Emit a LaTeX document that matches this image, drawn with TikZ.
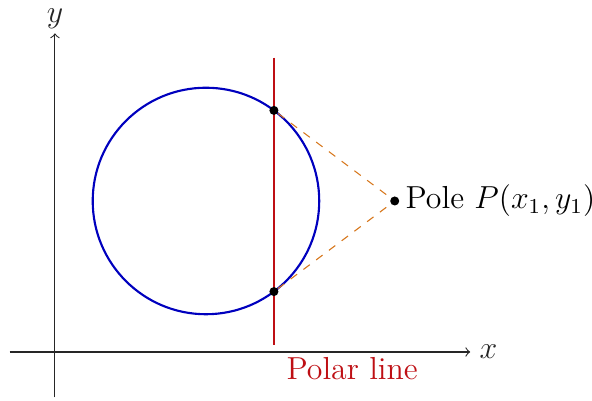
\documentclass[tikz,border=0pt]{standalone}
\usetikzlibrary{calc}
\definecolor{circblue}{RGB}{0,0,190}
\definecolor{polred}{RGB}{190,15,20}
\definecolor{tanorange}{RGB}{215,120,30}
\begin{document}
\begin{tikzpicture}[x=1cm,y=1cm,
  axis/.style={->,thin,black!85},
  lbl/.style={font=\fontsize{12}{14}\selectfont},
  dot/.style={circle,fill=black,inner sep=0pt,minimum size=3.4pt},
  tangent/.style={dashed,tanorange,thin}]
\useasboundingbox (-0.728,-0.636) rectangle (7.113,4.662);
% axes
\coordinate (xs) at (-0.6,0);
\coordinate (xe) at (5.5,0);
\coordinate (ys) at (0,-0.6);
\coordinate (ye) at (0,4.22);
\draw[axis] (xs) -- (xe) node[right,lbl] (xl) {$x$};
\draw[axis] (ys) -- (ye) node[above,lbl,inner sep=1.5pt] (yl) {$y$};
% circle
\coordinate (C) at (2,2);
\draw[circblue,line width=0.8pt] (C) circle (1.5);
% polar line
\coordinate (pa) at (2.9,3.9);
\coordinate (pb) at (2.9,0.09);
\draw[polred,line width=0.8pt] (pa) -- (pb);
\node[lbl,text=polred,anchor=north west,inner sep=0pt] (pl) at (3.06,-0.07) {Polar line};
% tangent points and pole
\node[dot] (T1) at (2.9,3.2) {};
\node[dot] (T2) at (2.9,0.8) {};
\node[dot] (P) at (4.5,2) {};
\draw[tangent] (T1) -- (P);
\draw[tangent] (T2) -- (P);
\node[lbl,anchor=west,inner sep=2pt] (pt) at (P.east) {Pole $P(x_1,y_1)$};
\end{tikzpicture}
\end{document}
